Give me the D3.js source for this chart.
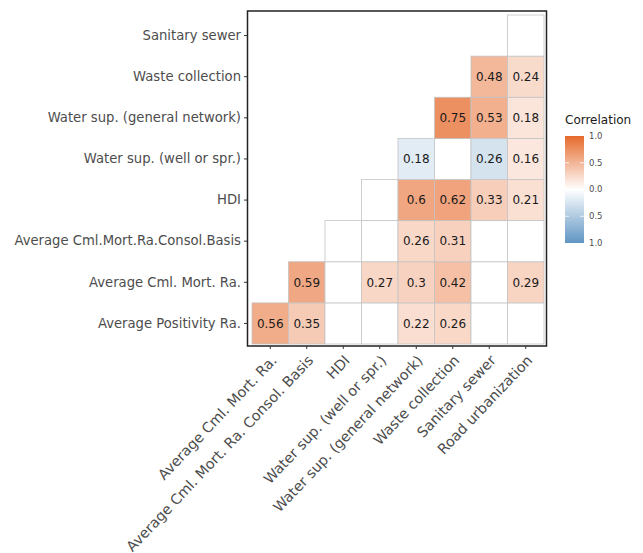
<!DOCTYPE html>
<html>
<head>
<meta charset="utf-8">
<script src="https://cdn.jsdelivr.net/npm/d3@7"></script>
<style>
  html, body { margin: 0; padding: 0; background: #fff; }
  svg { display: block; font-family: "DejaVu Sans", sans-serif; }
</style>
</head>
<body>
<svg id="chart" width="643" height="553"></svg>
<script>
// Variables along the x axis (left to right)
const xVars = [
  "Average Cml. Mort. Ra.",
  "Average Cml. Mort. Ra. Consol. Basis",
  "HDI",
  "Water sup. (well or spr.)",
  "Water sup. (general network)",
  "Waste collection",
  "Sanitary sewer",
  "Road urbanization"
];
// Variables along the y axis (bottom to top)
const yVars = [
  "Average Positivity Ra.",
  "Average Cml. Mort. Ra.",
  "Average Cml.Mort.Ra.Consol.Basis",
  "HDI",
  "Water sup. (well or spr.)",
  "Water sup. (general network)",
  "Waste collection",
  "Sanitary sewer"
];
// Correlation per row (same order as yVars), one entry per x variable.
// undefined = cell not drawn (diagonal / upper part), null = not significant (blank cell)
const _ = undefined;
const corrRows = [
  [0.56, 0.35, null, null, 0.22, 0.26, null, null],
  [_,    0.59, null, 0.27, 0.30, 0.42, null, 0.29],
  [_,    _,    null, null, 0.26, 0.31, null, null],
  [_,    _,    _,    null, 0.60, 0.62, 0.33, 0.21],
  [_,    _,    _,    _,   -0.18, null,-0.26, 0.16],
  [_,    _,    _,    _,    _,    0.75, 0.53, 0.18],
  [_,    _,    _,    _,    _,    _,    0.48, 0.24],
  [_,    _,    _,    _,    _,    _,    _,    null]
];
const legendTicks = [1, 0.5, 0, -0.5, -1];

const cells = [];
corrRows.forEach((row, i) => row.forEach((v, j) => {
  if (v !== undefined) cells.push({ x: xVars[j], y: yVars[i], v });
}));

const svg = d3.select("#chart");

const plot = { left: 252, right: 544, top: 15, bottom: 344 };
const x = d3.scaleBand().domain(xVars).range([plot.left, plot.right]);
const y = d3.scaleBand().domain(yVars).range([plot.bottom, plot.top]);
const color = d3.scaleLinear().domain([-1, 0, 1])
  .range(["#5f95c3", "#ffffff", "#e66a2c"]).interpolate(d3.interpolateRgb);
const fmt = v => {
  const a = Math.abs(v);
  return (Math.round(a * 100) / 100).toString();
};

// tiles
svg.append("g").selectAll("rect").data(cells).join("rect")
  .attr("x", d => x(d.x)).attr("y", d => y(d.y))
  .attr("width", x.bandwidth()).attr("height", y.bandwidth())
  .attr("fill", d => d.v === null ? "#ffffff" : color(d.v))
  .attr("stroke", "#c4c4c4").attr("stroke-width", 0.8);

// values
svg.append("g").selectAll("text").data(cells.filter(d => d.v !== null)).join("text")
  .attr("x", d => x(d.x) + x.bandwidth() / 2)
  .attr("y", d => y(d.y) + y.bandwidth() / 2)
  .attr("text-anchor", "middle").attr("dy", "0.35em")
  .attr("font-size", 12).attr("fill", "#1a1a1a")
  .text(d => fmt(d.v));

// panel border
svg.append("rect")
  .attr("x", 247.5).attr("y", 11).attr("width", 299).attr("height", 335)
  .attr("fill", "none").attr("stroke", "#222").attr("stroke-width", 1.5);

// y axis
const yAxis = svg.append("g").attr("transform", "translate(247,0)")
  .call(d3.axisLeft(y).tickSize(3).tickPadding(3));
yAxis.select(".domain").remove();
yAxis.selectAll("line").attr("stroke", "#333");
yAxis.selectAll("text").attr("font-size", 13.2).attr("fill", "#4d4d4d")
  .attr("font-family", "DejaVu Sans, sans-serif");

// x axis
const xAxis = svg.append("g").attr("transform", "translate(0,346)")
  .call(d3.axisBottom(x).tickSize(3).tickPadding(3));
xAxis.select(".domain").remove();
xAxis.selectAll("line").attr("stroke", "#333");
xAxis.selectAll("text")
  .attr("font-size", 14.3).attr("fill", "#4d4d4d")
  .attr("font-family", "DejaVu Sans, sans-serif")
  .attr("text-anchor", "end")
  .attr("dy", "0.3em")
  .attr("transform", "translate(0,8) rotate(-46.5)");

// legend
const lg = svg.append("g");
lg.append("text").attr("x", 565).attr("y", 124)
  .attr("font-size", 12).attr("fill", "#1a1a1a").text("Correlation");
const defs = svg.append("defs");
const grad = defs.append("linearGradient").attr("id", "corrGrad")
  .attr("x1", 0).attr("x2", 0).attr("y1", 0).attr("y2", 1);
// stops from the top of the bar (+1) down to the bottom (-1)
d3.range(10, -10.5, -1).map(k => k / 10).forEach(t => {
  grad.append("stop").attr("offset", (1 - t) / 2).attr("stop-color", color(t));
});
const ly = d3.scaleLinear().domain([1, -1]).range([136, 243]);
lg.append("rect").attr("x", 565).attr("y", ly(1)).attr("width", 19)
  .attr("height", ly(-1) - ly(1)).attr("fill", "url(#corrGrad)");
lg.selectAll("g.tk").data(legendTicks.filter(t => Math.abs(t) < 1)).join("g")
  .attr("class", "tk")
  .each(function(t) {
    const g = d3.select(this);
    g.append("line").attr("x1", 565).attr("x2", 569).attr("y1", ly(t)).attr("y2", ly(t))
      .attr("stroke", "#fff").attr("stroke-width", 0.8);
    g.append("line").attr("x1", 580).attr("x2", 584).attr("y1", ly(t)).attr("y2", ly(t))
      .attr("stroke", "#fff").attr("stroke-width", 0.8);
  });
lg.selectAll("text.lbl").data(legendTicks).join("text")
  .attr("class", "lbl")
  .attr("x", 589).attr("y", t => ly(t)).attr("dy", "0.35em")
  .attr("font-size", 8.5).attr("fill", "#4d4d4d")
  .text(t => Math.abs(t).toFixed(1));
</script>
</body>
</html>
